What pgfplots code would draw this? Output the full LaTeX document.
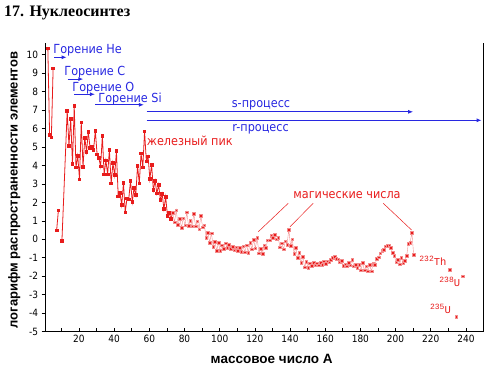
\documentclass[border=0pt]{standalone}
\usepackage{fontspec}
\setmainfont{DejaVu Sans}[FakeStretch=0.9]
\newfontfamily\titlefont{Liberation Serif}
\newfontfamily\labfont{Liberation Sans}
\newfontfamily\courfont{Liberation Mono}
\usepackage{pgfplots}
\pgfplotsset{compat=1.18}
\usetikzlibrary{arrows.meta}
\definecolor{dred}{RGB}{232,28,28}
\definecolor{dblue}{RGB}{40,40,225}
\begin{document}
\begin{tikzpicture}
\useasboundingbox (-45.7pt,-37.3pt) rectangle (449.3pt,331.7pt);
\begin{axis}[
  at={(0pt,0pt)}, anchor=south west,
  scale only axis, width=437.6pt, height=289pt,
  xmin=1.08, xmax=249.9, ymin=-5, ymax=10.64,
  axis x line*=bottom, axis y line*=left,
  axis line style={line width=0.8pt, black},
  xtick={20,40,...,240}, minor xtick={10,30,...,230},
  ytick={-5,-4,...,10},
  xtick align=inside, ytick align=outside,
  major tick length=4pt, minor tick length=4pt,
  tick style={black, line width=0.6pt},
  tick label style={font=\fontsize{10}{12}\selectfont},
  /pgf/number format/assume math mode=true,
  clip=false,
  unbounded coords=jump,
  xlabel={\labfont\bfseries\fontsize{13.5}{16}\selectfont массовое число А},
  xlabel style={at={(axis description cs:0.5165,-0.1083)}, anchor=base, inner sep=0pt},
  ylabel={\labfont\bfseries\fontsize{13}{16}\selectfont логарифм распространенности элементов},
  ylabel style={at={(axis description cs:-0.072,0.49)}, anchor=center, inner sep=0pt},
]
\draw[black, line width=0.8pt] (rel axis cs:1,0) -- (rel axis cs:1,1);

% light nuclei (line + marks)
\addplot[color=dred, line width=0.8pt, mark=square*, mark size=1.3pt,
  mark options={draw=none, fill=dred}, x filter/.expression={x+1.3}] table {
x y
1 10.33
2 5.64
3 5.52
4 9.25
5 nan
6 0.49
7 1.57
8 nan
9 -0.10
12 6.96
13 5.07
14 6.51
15 4.07
16 7.21
17 3.90
18 4.52
19 3.25
20 6.33
21 3.93
22 5.50
23 4.74
24 5.82
25 4.95
26 4.99
27 4.85
28 5.88
29 4.59
30 4.41
31 3.94
32 5.61
33 3.51
34 4.26
35 3.52
36 4.85
37 3.02
38 4.12
39 3.47
40 4.77
41 2.32
42 2.52
43 1.86
44 3.05
45 1.46
46 2.22
47 2.17
48 3.17
49 2.03
50 2.77
51 2.39
52 3.97
53 3.03
54 4.64
55 3.90
56 5.84
57 4.22
58 4.48
59 3.27
60 4.03
61 2.67
62 3.17
63 2.48
64 2.95
65 2.13
66 2.47
67 1.63
68 2.29
69 1.28
70 1.43
71 1.10
72 1.45
};

% heavier nuclei, then Th-232, U-235, U-238 as separate points
\addplot[color=dred, draw=dred!50!white, line width=0.4pt, mark=square*, mark size=1.3pt,
  mark options={draw=none, fill=dred}, x filter/.expression={x+1.3}] table {
x y
72 1.45
73 0.92
74 1.58
75 0.78
76 1.13
77 0.64
78 1.14
79 0.76
80 1.47
81 0.74
82 1.02
83 0.71
84 1.39
85 0.70
86 0.99
87 0.55
88 1.28
89 0.66
90 0.76
91 0.10
92 0.36
93 -0.17
94 0.34
95 -0.39
96 -0.12
97 -0.61
98 -0.19
99 -0.62
100 -0.32
101 -0.50
102 -0.22
103 -0.46
104 -0.30
105 -0.51
106 -0.41
107 -0.60
108 -0.42
109 -0.63
110 -0.44
111 -0.68
112 -0.37
113 -0.69
114 -0.31
115 -0.72
116 -0.17
117 -0.53
118 -0.03
119 -0.48
120 0.10
121 -0.75
122 -0.52
123 -0.77
124 -0.34
125 -0.47
126 -0.04
127 -0.05
128 0.20
129 0.09
130 0.26
131 0.00
132 0.10
133 -0.43
134 -0.22
135 -0.53
136 -0.11
137 -0.30
138 0.53
139 -0.35
140 0.00
141 -0.78
142 -0.46
143 -1.00
144 -0.72
145 -1.26
146 -0.95
147 -1.51
148 -1.21
149 -1.55
150 -1.29
151 -1.43
152 -1.26
153 -1.39
154 -1.29
155 -1.41
156 -1.27
157 -1.38
158 -1.19
159 -1.32
160 -1.19
161 -1.22
162 -1.10
163 -1.01
164 -0.94
165 -1.05
166 -1.08
167 -1.24
168 -1.17
169 -1.42
170 -1.35
171 -1.45
172 -1.27
173 -1.40
174 -1.10
175 -1.45
176 -1.38
177 -1.55
178 -1.37
179 -1.68
180 -1.27
181 -1.68
182 -1.45
183 -1.72
184 -1.39
185 -1.72
186 -1.31
187 -1.37
188 -1.05
189 -0.96
190 -0.75
191 -0.61
192 -0.56
193 -0.38
194 -0.36
195 -0.34
196 -0.47
197 -0.73
198 -0.89
199 -1.24
200 -1.10
201 -1.35
202 -1.00
203 -1.27
204 -1.17
205 -0.89
206 -0.23
207 -0.18
208 0.35
209 -0.84
210 nan
229.6 -1.63
231 nan
233.15 -4.18
234 nan
236.85 -1.99
};

% burning stages
\begin{scope}[every node/.style={anchor=base west, inner sep=0pt, text=dblue, font=\fontsize{12.5}{14}\selectfont}]
\node at (axis cs:5.40,10.03) {Горение He};
\node at (axis cs:11.65,8.89) {Горение C};
\node at (axis cs:16.20,8.00) {Горение O};
\node at (axis cs:30.98,7.40) {Горение Si};
\node at (axis cs:106.82,7.12) {s-процесс};
\node at (axis cs:107.16,5.86) {r-процесс};
\end{scope}
\begin{scope}[dblue, line width=1pt, -{Latex[length=5pt,width=4pt]}]
\draw (axis cs:5.80,9.85) -- (axis cs:13.02,9.85);
\draw (axis cs:13.59,8.67) -- (axis cs:22.46,8.67);
\draw (axis cs:17.34,7.85) -- (axis cs:29.11,7.85);
\draw (axis cs:29.39,7.28) -- (axis cs:56.96,7.28);
\draw (axis cs:58.5,6.90) -- (axis cs:210.06,6.90);
\draw (axis cs:58.5,6.44) -- (axis cs:248.95,6.44);
\end{scope}

% red annotations
\begin{scope}[every node/.style={anchor=base west, inner sep=0pt, text=dred, font=\fontsize{12.5}{14}\selectfont}]
\node at (axis cs:58.5,5.10) {железный пик};
\node at (axis cs:141.84,2.22) {магические числа};
\end{scope}
\draw[dred, line width=0.5pt] (axis cs:139.0,1.95) -- (axis cs:121.95,0.41);
\draw[dred, line width=0.5pt] (axis cs:153.21,1.95) -- (axis cs:139.97,0.68);
\draw[dred, line width=0.5pt] (axis cs:193.0,1.95) -- (axis cs:209.15,0.50);

\begin{scope}[every node/.style={anchor=base west, inner sep=0pt, text=dred}]
\node at (axis cs:213.47,-1.43) {\courfont\raisebox{4pt}{\fontsize{8}{9}\selectfont 232}\fontsize{10.5}{12}\selectfont Th};
\node at (axis cs:224.84,-2.56) {\courfont\raisebox{4pt}{\fontsize{8}{9}\selectfont 238}\fontsize{10.5}{12}\selectfont U};
\node at (axis cs:219.56,-4.04) {\courfont\raisebox{4pt}{\fontsize{8}{9}\selectfont 235}\fontsize{10.5}{12}\selectfont U};
\end{scope}
\end{axis}
\node[anchor=base west, inner sep=0pt] at (-41.7pt,315.2pt)
  {\titlefont\bfseries\fontsize{16}{18}\selectfont 17. Нуклеосинтез};
\end{tikzpicture}
\end{document}
